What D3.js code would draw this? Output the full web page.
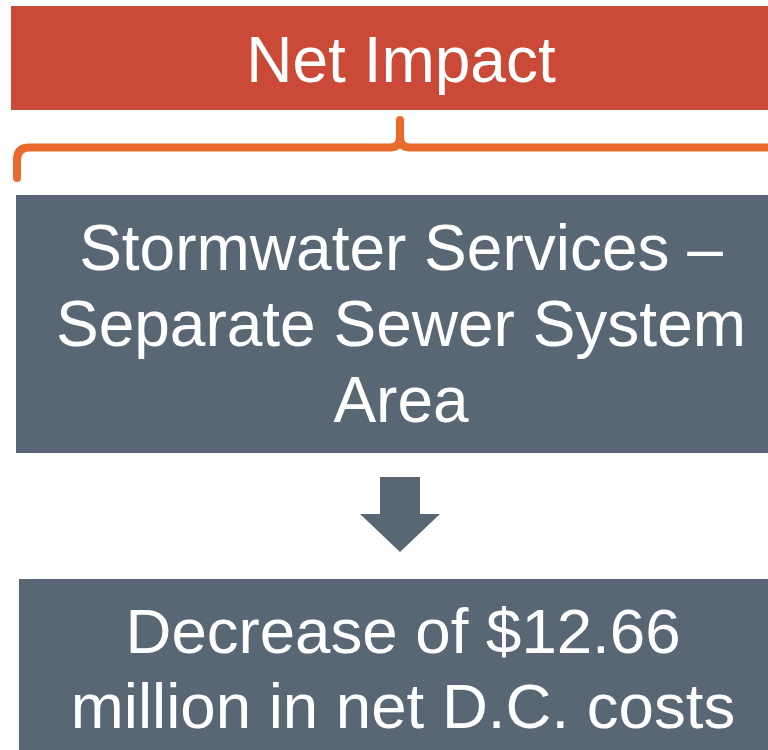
<!DOCTYPE html>
<html>
<head>
<meta charset="utf-8">
<script src="https://cdn.jsdelivr.net/npm/d3@7"></script>
<style>
  html, body { margin: 0; padding: 0; background: #fff; overflow: hidden; }
  svg { display: block; }
  text { font-family: "Liberation Sans", Arial, sans-serif; fill: #fff; }
</style>
</head>
<body>
<svg width="768" height="750"></svg>
<script>
// text content of the three boxes
const headerLines = ['Net Impact']
const serviceLines = ['Stormwater Services \u2013', 'Separate Sewer System', 'Area']
const resultLines = ['Decrease of $12.66', 'million in net D.C. costs']

const svg = d3.select('svg')
const red = '#cb4a37', slate = '#596674', orange = '#ea6a2e'

// boxes: x, y, w, h, fill, lines, first baseline, line step, font size
const boxes = [
  {x: 11, y: 6, w: 770, h: 104, fill: red, lines: headerLines, base: 82, step: 76, size: 64, cx: 401},
  {x: 16, y: 195, w: 770, h: 258, fill: slate, lines: serviceLines, base: 270, step: 76, size: 64, cx: 401},
  {x: 19, y: 579, w: 770, h: 200, fill: slate, lines: resultLines, base: 653, step: 75, size: 63.6, cx: 403}
]

boxes.forEach((b) => {
  svg.append('rect')
    .attr('x', b.x).attr('y', b.y)
    .attr('width', b.w).attr('height', b.h)
    .attr('fill', b.fill)
  svg.selectAll(null)
    .data(b.lines)
    .enter()
    .append('text')
    .attr('x', b.cx)
    .attr('y', (d, i) => b.base + i * b.step)
    .attr('text-anchor', 'middle')
    .attr('font-size', b.size)
    .text(d => d)
})

// curly brace under the header
const brace = d3.path()
brace.moveTo(17, 178)
brace.lineTo(17, 160)
brace.quadraticCurveTo(17, 147.5, 29, 147.5)
brace.lineTo(390, 147.5)
brace.quadraticCurveTo(400, 147.5, 400, 137)
brace.lineTo(400, 120)
brace.moveTo(400, 137)
brace.quadraticCurveTo(400, 147.5, 410, 147.5)
brace.lineTo(775, 147.5)
svg.append('path')
  .attr('d', brace.toString())
  .attr('fill', 'none')
  .attr('stroke', orange)
  .attr('stroke-width', 8)
  .attr('stroke-linecap', 'round')
  .attr('stroke-linejoin', 'round')

// down arrow between boxes
const arrow = [[380, 477], [420, 477], [420, 514], [440, 514], [400, 552], [360, 514], [380, 514]]
svg.append('path')
  .attr('d', d3.line()(arrow) + 'Z')
  .attr('fill', slate)
</script>
</body>
</html>
